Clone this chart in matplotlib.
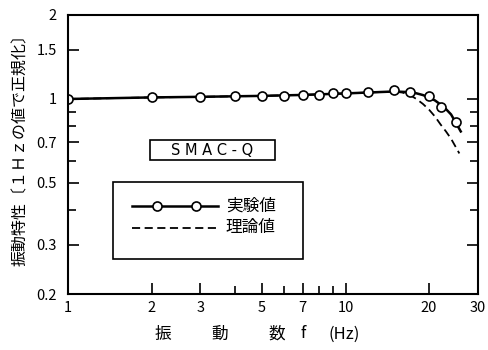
import matplotlib
matplotlib.use("Agg")
from matplotlib import pyplot as plt
from matplotlib.patches import Rectangle
from matplotlib.ticker import FixedLocator, NullFormatter

plt.rcParams["font.family"] = ["Noto Sans CJK JP", "DejaVu Sans"]
plt.rcParams["axes.unicode_minus"] = False

# 実験値 (markers)
freq_exp = [1, 2, 3, 4, 5, 6, 7, 8, 9, 10, 12, 15, 17, 20, 22, 25]
resp_exp = [1.00, 1.017, 1.017, 1.027, 1.027, 1.022, 1.033, 1.033, 1.051, 1.051,
            1.056, 1.073, 1.062, 1.022, 0.936, 0.824]
# 実験値を結ぶ曲線
freq_fit = [1, 2, 3, 5, 7, 10, 13, 15, 17, 18, 19, 20, 21, 22, 23, 24, 25, 26]
resp_fit = [1.0, 1.013, 1.018, 1.026, 1.034, 1.047, 1.058, 1.064, 1.058, 1.048, 1.033,
            1.012, 0.988, 0.955, 0.92, 0.88, 0.82, 0.765]
# 理論値
freq_th = [1, 2, 3, 5, 7, 10, 13, 15, 16, 17, 18, 19, 20, 21, 22, 23, 24, 25, 25.7]
resp_th = [1.0, 1.013, 1.018, 1.026, 1.034, 1.047, 1.058, 1.062, 1.055, 1.035, 1.0,
           0.96, 0.915, 0.865, 0.81, 0.765, 0.72, 0.67, 0.638]

x_major = [1, 2, 3, 5, 7, 10, 20, 30]
x_minor = [4, 6, 8, 9]
y_major = [0.2, 0.3, 0.5, 0.7, 1, 1.5, 2]
y_labels = ["0.2", "0.3", "0.5", "0.7", "1", "1.5", "2"]
y_minor = [0.4, 0.6, 0.8, 0.9]

fig = plt.figure(figsize=(4.88, 3.5), dpi=100)
ax = fig.add_axes([68 / 488, 1 - 294 / 350, 410 / 488, 279 / 350])

ax.plot(freq_th, resp_th, ls=(0, (4.5, 2.5)), color="k", lw=1.3)
ax.plot(freq_fit, resp_fit, color="k", lw=1.8)
ax.plot(freq_exp, resp_exp, ls="", marker="o", ms=6.5, mfc="white", mec="k", mew=1.2)

ax.set_xscale("log")
ax.set_yscale("log")
ax.set_xlim(1, 30)
ax.set_ylim(0.2, 2)

ax.xaxis.set_major_locator(FixedLocator(x_major))
ax.set_xticklabels([str(v) for v in x_major])
ax.xaxis.set_minor_locator(FixedLocator(x_minor))
ax.xaxis.set_minor_formatter(NullFormatter())
ax.yaxis.set_major_locator(FixedLocator(y_major))
ax.set_yticklabels(y_labels)
ax.yaxis.set_minor_locator(FixedLocator(y_minor))
ax.yaxis.set_minor_formatter(NullFormatter())

ax.tick_params(which="both", direction="in", top=False, right=True, width=1.2,
               labelsize=10.5, colors="k")
ax.tick_params(which="major", length=8)
ax.tick_params(which="minor", length=6)
ax.tick_params(axis="y", which="major", pad=8)
ax.tick_params(axis="x", which="major", pad=5)
for sp in ax.spines.values():
    sp.set_linewidth(1.5)

# 縦軸ラベル
fig.text(21 / 488, 1 - 146 / 350, "振動特性〔１Ｈｚの値で正規化〕", rotation=90,
         ha="center", va="center", fontsize=11.5)
# 横軸ラベル
for px, s in [(163, "振"), (220, "動"), (277, "数"), (303, "f"), (344, "(Hz)")]:
    fig.text(px / 488, 1 - 334 / 350, s, ha="center", va="center", fontsize=12)

# SMAC-Q ラベル
ax.add_patch(Rectangle((0.2, 0.48), 0.305, 0.072, transform=ax.transAxes,
                       fill=False, lw=1.2, ec="k"))
ax.text(0.352, 0.516, "S M A C - Q", transform=ax.transAxes, ha="center",
        va="center", fontsize=10.5, family="DejaVu Sans")

# 凡例
ax.add_patch(Rectangle((0.11, 0.125), 0.463, 0.276, transform=ax.transAxes,
                       fill=False, lw=1.2, ec="k"))
ax.plot([0.156, 0.366], [0.315, 0.315], transform=ax.transAxes, color="k", lw=1.8)
ax.plot([0.216, 0.312], [0.315, 0.315], transform=ax.transAxes, ls="", marker="o",
        ms=6.5, mfc="white", mec="k", mew=1.2)
ax.plot([0.156, 0.366], [0.237, 0.237], transform=ax.transAxes, color="k", lw=1.3,
        ls=(0, (4.5, 2.5)))
ax.text(0.385, 0.315, "実験値", transform=ax.transAxes, va="center", fontsize=12)
ax.text(0.385, 0.237, "理論値", transform=ax.transAxes, va="center", fontsize=12)

fig.savefig("out.png", dpi=100)
